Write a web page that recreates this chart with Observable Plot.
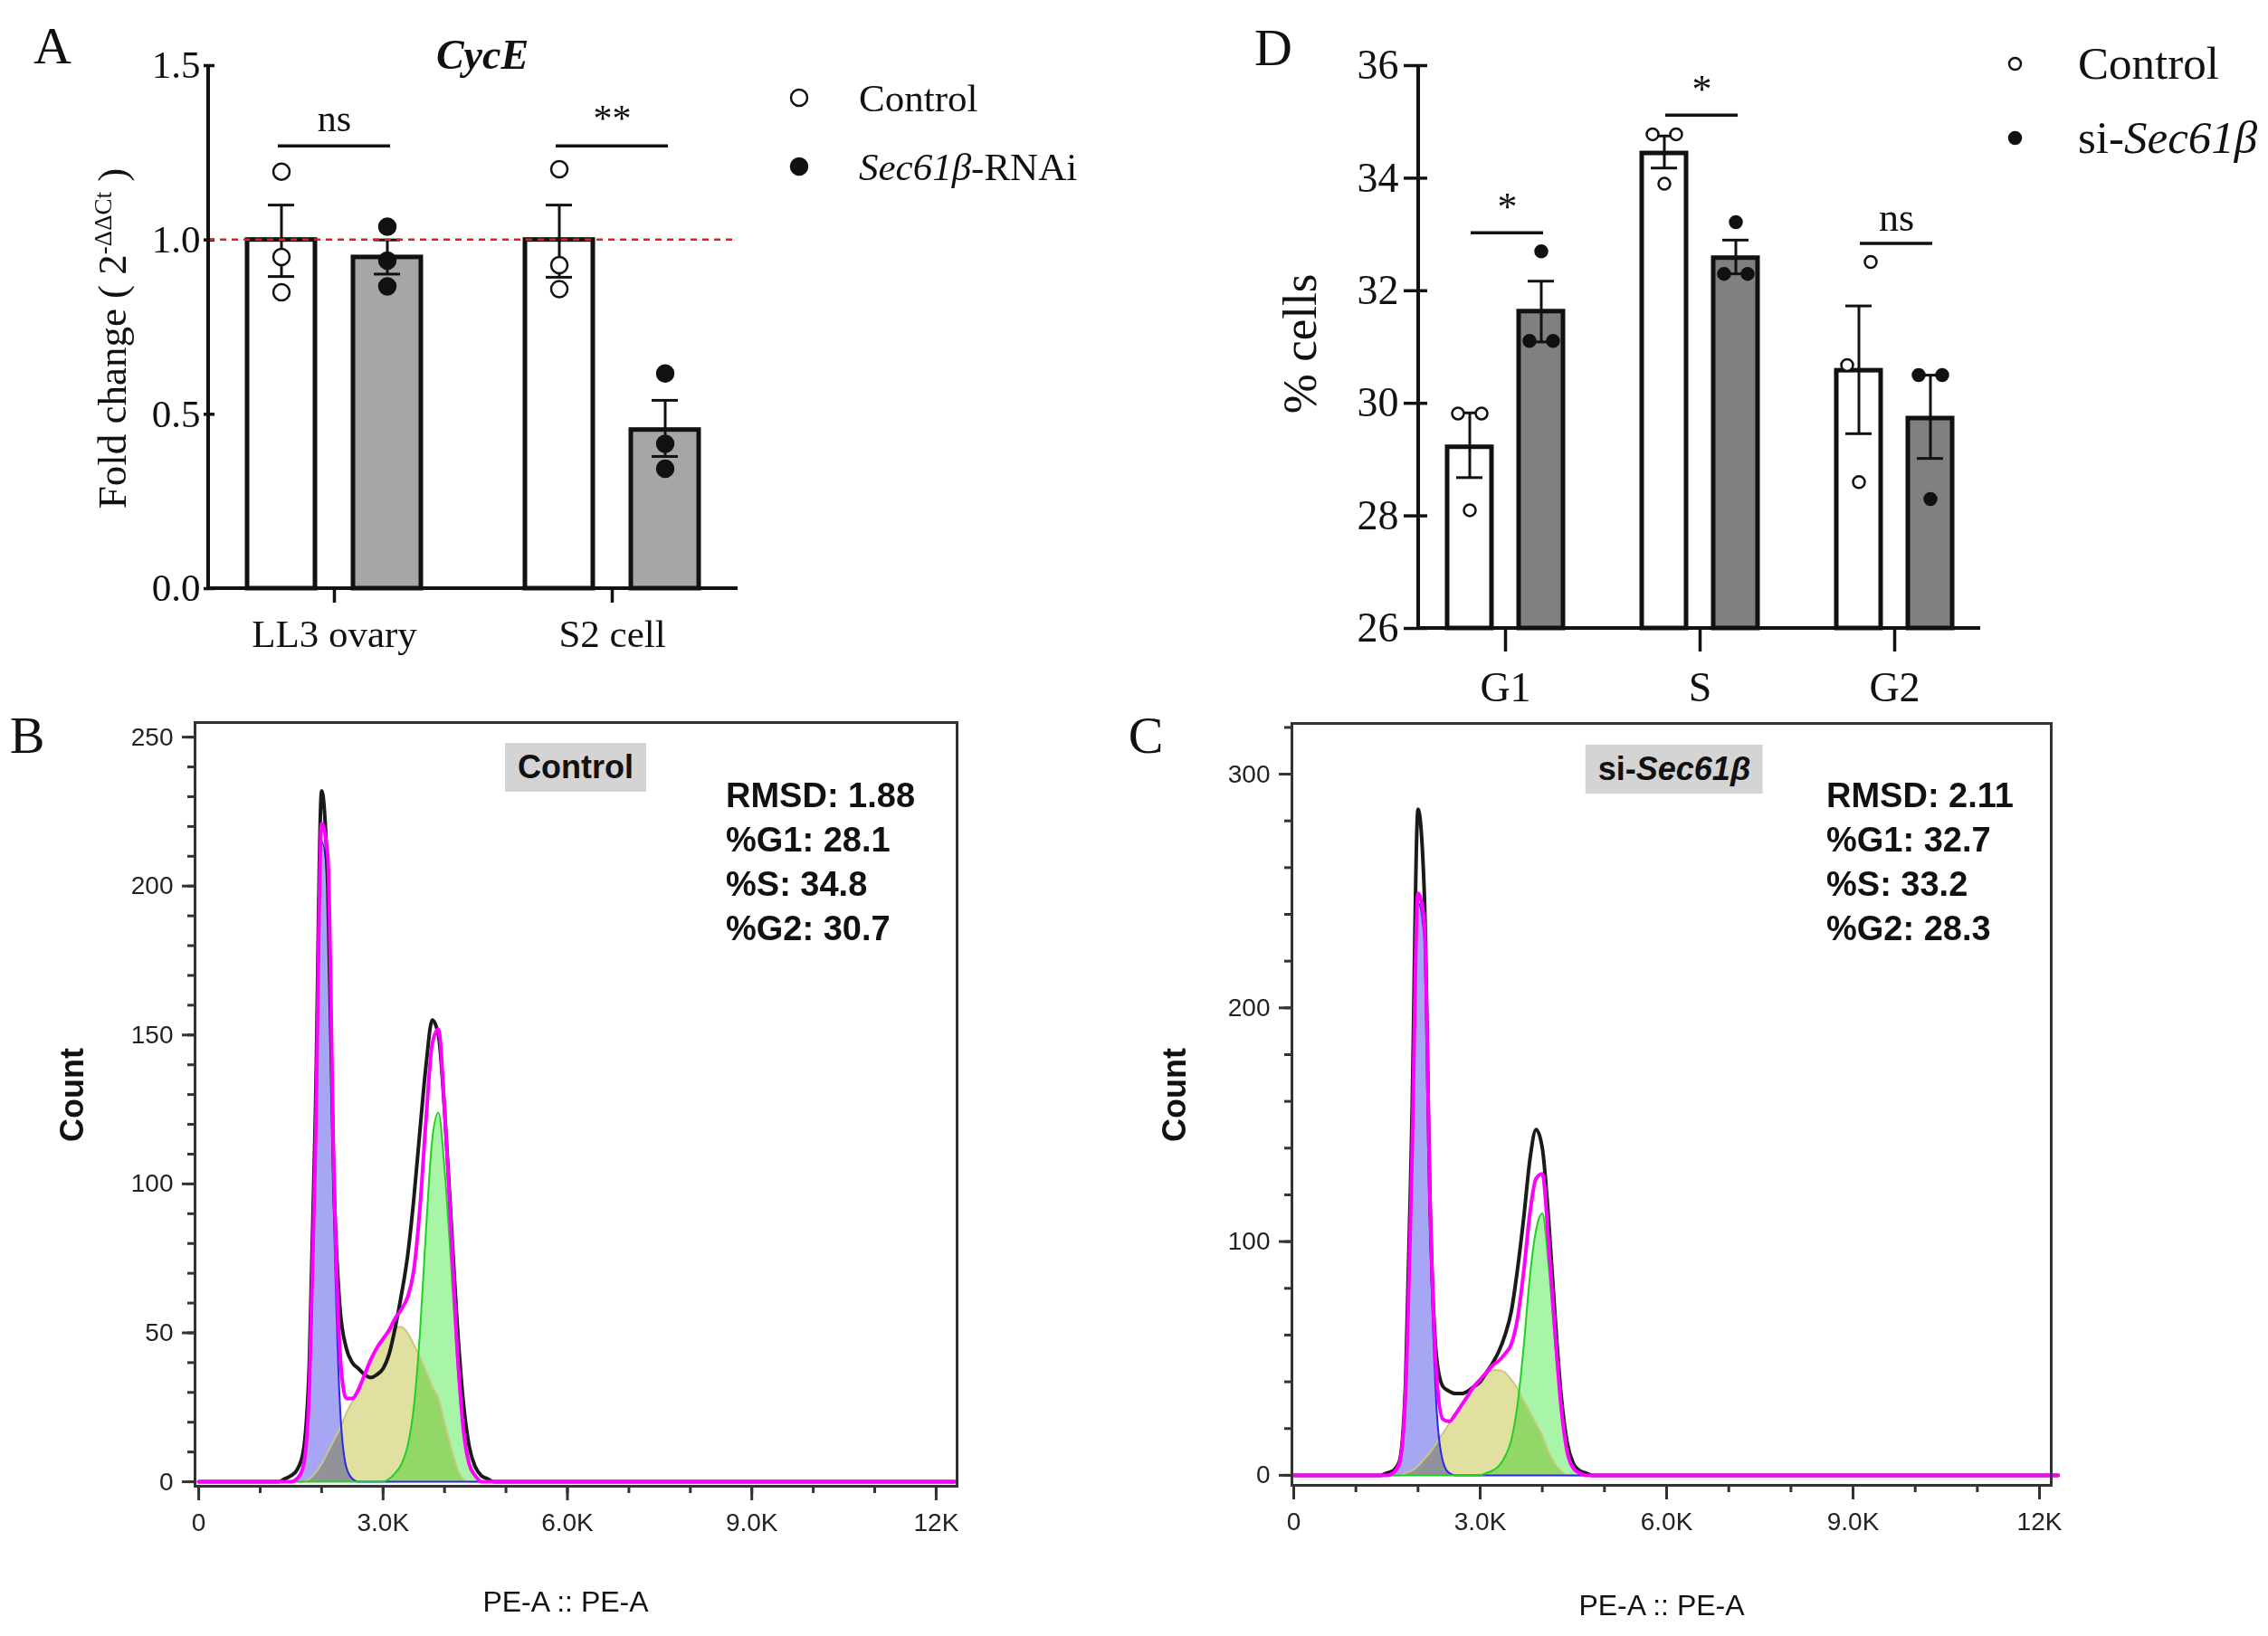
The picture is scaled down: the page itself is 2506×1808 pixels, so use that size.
<!DOCTYPE html>
<html><head><meta charset="utf-8">
<script src="https://cdn.jsdelivr.net/npm/d3@7"></script>
<script src="https://cdn.jsdelivr.net/npm/@observablehq/plot@0.6"></script>
<style>
html,body{margin:0;padding:0;background:#fff;}
#root{position:relative;width:2506px;height:1808px;overflow:hidden;background:#fff;}
.p{position:absolute;}
.t{position:absolute;white-space:nowrap;color:#111;}
.serif{font-family:"Liberation Serif","Times New Roman",serif;}
.sans{font-family:"Liberation Sans",Arial,sans-serif;}
</style></head>
<body><div id="root"></div>
<script>
// ---------- Panel A data ----------
const groupsA = ["LL3 ovary", "S2 cell"];
const condsA = ["Control", "Sec61β-RNAi"];
const meanA = [1.0, 0.95, 1.0, 0.455];
const hiA = [1.10, 1.0, 1.10, 0.54];
const loA = [0.895, 0.902, 0.893, 0.379];
const ptsA = [[1.196, 0.951, 0.85], [1.038, 0.941, 0.867], [1.203, 0.928, 0.859], [0.617, 0.415, 0.344]];
const sigA = [{g: "LL3 ovary", y: 1.27, label: "ns"}, {g: "S2 cell", y: 1.27, label: "**"}];
const ticksA = [0, 0.5, 1.0, 1.5];

// ---------- Panel D data ----------
const phasesD = ["G1", "S", "G2"];
const condsD = ["Control", "si-Sec61β"];
const meanD = [29.22, 31.63, 34.44, 32.58, 30.58, 29.73];
const hiD = [29.83, 32.17, 34.75, 32.9, 31.73, 30.5];
const loD = [28.68, 31.09, 34.18, 32.3, 29.46, 29.02];
const ptsD = [[29.82, 29.82, 28.1], [31.11, 31.11, 32.7], [34.78, 34.78, 33.9], [32.3, 32.3, 33.22], [30.68, 32.51, 28.6], [30.5, 30.5, 28.3]];
const sigD = [{g: "G1", y: 33.03, label: "*"}, {g: "S", y: 35.12, label: "*"}, {g: "G2", y: 32.84, label: "ns"}];
const ticksD = [26, 28, 30, 32, 34, 36];

// ---------- Histogram data (PE-A channel) ----------
const histX = [0, 1300,1400,1500,1600,1700,1800,1900,2000,2100,2200,2300,2400,2500,2600,2700,2800,2900,3000,3100,3200,3300,3400,3500,3600,3700,3800,3900,4000,4100,4200,4300,4400,4500,4600,4700,4800,4900,5000,5100,5200, 12300];
// Control
const bG1 = [0, 0,0,0,1,5,30,110,215,200,90,25,5,1, 0,0,0,0,0,0,0,0,0,0,0,0,0,0,0,0,0,0,0,0,0,0,0,0,0,0,0, 0];
const bS  = [0, 0,0,0,0,0,1,3,6,10,14,18,23,27,31,36,41,45,48,50,52,52,50,46,42,37,32,28,20,12,5,1, 0,0,0,0,0,0,0,0,0, 0];
const bG2 = [0, 0,0,0,0,0,0,0,0,0,0,0,0,0,0,0,0,0,0, 1,3,6,12,25,50,85,115,124,105,75,42,18,6,2,0, 0,0,0,0,0,0, 0];
const bRaw= [0, 0,1,2,4,10,40,125,232,200,100,58,45,40,38,36,35,36,38,43,52,63,76,95,118,140,155,150,125,90,55,28,12,5,2,1, 0,0,0,0,0, 0];
// si-Sec61β
const cG1 = [0, 0,0,0,1,5,35,130,245,230,100,28,6,1, 0,0,0,0,0,0,0,0,0,0,0,0,0,0,0,0,0,0,0,0,0,0,0,0,0,0,0, 0];
const cS  = [0, 0,0,0,0,0, 1,2,4,7,10,14,18,22,26,30,34,38,41,43,45,45,44,41,37,32,27,22,17,10,5,2, 0,0,0,0,0,0,0,0,0, 0];
const cG2 = [0, 0,0,0,0,0,0,0,0,0,0,0,0,0,0,0,0,0,0, 1,2,4,8,15,30,55,85,105,112,90,58,28,10,3,1, 0,0,0,0,0,0, 0];
const cRaw= [0, 0,0,1,2,6,40,150,285,250,110,50,38,36,35,35,36,38,40,44,48,53,60,70,88,110,135,148,140,110,70,35,14,5,2,1, 0,0,0,0,0, 0];
const statsB = ["RMSD: 1.88", "%G1: 28.1", "%S: 34.8", "%G2: 30.7"];
const statsC = ["RMSD: 2.11", "%G1: 32.7", "%S: 33.2", "%G2: 28.3"];

const root = document.getElementById("root");
const SERIF = '"Liberation Serif","Times New Roman",serif';
const SANS = '"Liberation Sans",Arial,sans-serif';

function place(el, left, top) { el.classList.add("p"); el.style.left = left + "px"; el.style.top = top + "px"; root.appendChild(el); }
function text(html, x, y, cls, size, extra) {
  const d = document.createElement("div");
  d.className = "t " + cls; d.innerHTML = html;
  d.style.left = x + "px"; d.style.top = y + "px"; d.style.fontSize = size + "px";
  d.style.transform = "translate(-50%,-50%)" + (extra && extra.rot ? " rotate(" + extra.rot + "deg)" : "");
  if (extra && extra.css) Object.assign(d.style, extra.css);
  root.appendChild(d); return d;
}
function addLine(svg, x1, y1, x2, y2, w, extra) {
  const l = document.createElementNS("http://www.w3.org/2000/svg", "line");
  l.setAttribute("x1", x1); l.setAttribute("y1", y1); l.setAttribute("x2", x2); l.setAttribute("y2", y2);
  l.setAttribute("stroke", (extra && extra.stroke) || "#111"); l.setAttribute("stroke-width", w);
  if (extra && extra.dash) l.setAttribute("stroke-dasharray", extra.dash);
  svg.appendChild(l);
}

// ---------- Bar panel builder ----------
function barPanel(cfg) {
  const rows = [], pts = [];
  cfg.groups.forEach((g, gi) => cfg.conds.forEach((c, ci) => {
    const i = gi * 2 + ci;
    rows.push({g, c, mean: cfg.mean[i], hi: cfg.hi[i], lo: cfg.lo[i]});
    cfg.pts[i].forEach((v, k) => pts.push({g, c, v, k}));
  }));
  const W = cfg.width, H = cfg.height;
  const jit = cfg.jitter;
  const marks = [
    Plot.barY(rows, {fx: "g", x: "c", y1: cfg.ydom[0], y2: "mean", fill: "c", stroke: "#111", strokeWidth: cfg.barStroke}),
    Plot.ruleX(rows, {fx: "g", x: "c", y1: "lo", y2: "hi", stroke: "#111", strokeWidth: 3}),
    Plot.tickY(rows, {fx: "g", x: "c", y: "hi", stroke: "#111", strokeWidth: 3, insetLeft: cfg.capInset, insetRight: cfg.capInset}),
    Plot.tickY(rows, {fx: "g", x: "c", y: "lo", stroke: "#111", strokeWidth: 3, insetLeft: cfg.capInset, insetRight: cfg.capInset}),
    ...[0, 1, 2].map(k => Plot.dot(pts.filter(p => p.k === k), {fx: "g", x: "c", y: "v", dx: jit[k], r: cfg.r,
      fill: p => p.c === "Control" ? "white" : "#111", stroke: "#111", strokeWidth: 2.5})),
    Plot.ruleY(cfg.sig, {fx: "g", y: "y", stroke: "#111", strokeWidth: 3.5, insetLeft: cfg.sigInset[0], insetRight: cfg.sigInset[1]}),
    Plot.text(cfg.sig, {fx: "g", y: "y", text: "label", dy: cfg.sigDy, fontSize: cfg.sigSize, fill: "#111", dx: cfg.sigDx})
  ];
  const p = Plot.plot({
    width: W, height: H,
    marginLeft: cfg.m[0], marginRight: cfg.m[1], marginTop: cfg.m[2], marginBottom: cfg.m[3],
    style: {fontFamily: SERIF, fontSize: cfg.tickFont + "px", color: "#111", background: "transparent"},
    fx: {domain: cfg.groups, paddingInner: cfg.fxPad[0], paddingOuter: cfg.fxPad[1], label: null, axis: "bottom",
         tickSize: cfg.fxTick, tickPadding: cfg.fxTickPad},
    x: {domain: cfg.conds, paddingInner: cfg.xPad[0], paddingOuter: cfg.xPad[1], axis: null},
    y: {domain: cfg.ydom, ticks: cfg.yticks, tickFormat: cfg.yfmt, tickSize: cfg.yTick, tickPadding: cfg.yTickPad, label: null},
    color: {domain: cfg.conds, range: cfg.fills},
    marks
  });
  const L = cfg.m[0], B = H - cfg.m[3], T = cfg.m[2];
  p.querySelectorAll("g[aria-label='y-axis tick'], g[aria-label='fx-axis tick']").forEach(e => e.setAttribute("stroke-width", 3.5));
  if (cfg.refLine !== undefined) {
    const yy = p.scale("y").apply(cfg.refLine);
    addLine(p, L, yy, cfg.axisRight, yy, 2.5, {stroke: "#e02020", dash: "7,6"});
  }
  addLine(p, L, T - 1, L, B + 1.75, 4);
  addLine(p, L - 2, B, cfg.axisRight, B, 4);
  return p;
}

// Panel A
const pA = barPanel({
  groups: groupsA, conds: condsA, mean: meanA, hi: hiA, lo: loA, pts: ptsA, sig: sigA,
  width: 1000, height: 780, m: [230, 185, 72, 130], axisRight: 815,
  fxPad: [0.14, 0.02], xPad: [0.357, 0.303], ydom: [0, 1.5], yticks: ticksA, yfmt: d3.format(".1f"),
  fills: ["white", "#a6a6a6"], barStroke: 5, capInset: 23, r: 9, jitter: [0, 0, 0],
  sigInset: [70, 70], sigDy: -30, sigDx: 0, sigSize: 42, tickFont: 43, yTick: 12, yTickPad: 4,
  fxTick: 16, fxTickPad: 18, refLine: 1.0
});
place(pA, 0, 0);

// Panel D
const pD = barPanel({
  groups: phasesD, conds: condsD, mean: meanD, hi: hiD, lo: loD, pts: ptsD, sig: sigD,
  width: 1156, height: 830, m: [217, 318, 72, 136], axisRight: 838,
  fxPad: [0.2, 0.04], xPad: [0.375, 0.266], ydom: [26, 36], yticks: ticksD, yfmt: d3.format("d"),
  fills: ["white", "#808080"], barStroke: 5, capInset: 10, r: 6.5, jitter: [-13, 13, 0],
  sigInset: [48, 44], sigDy: -28, sigDx: 2, sigSize: 44, tickFont: 46, yTick: 26, yTickPad: 6,
  fxTick: 26, fxTickPad: 22
});
place(pD, 1350, 0);

// ---------- Histogram panel builder ----------
const fmtK = d => d === 0 ? "0" : d >= 10000 ? (d / 1000) + "K" : (d / 1000).toFixed(1) + "K";
function histPanel(cfg) {
  const rows = histX.map((x, i) => ({x, g1: cfg.g1[i], s: cfg.s[i], g2: cfg.g2[i], raw: cfg.raw[i], fit: cfg.g1[i] + cfg.s[i] + cfg.g2[i]}));
  const curve = "monotone-x";
  const ax = {fontSize: 28, fill: "#222", stroke: "#333", strokeWidth: 3, label: null};
  const p = Plot.plot({
    width: cfg.width, height: cfg.height,
    marginLeft: cfg.m[0], marginRight: cfg.m[1], marginTop: cfg.m[2], marginBottom: cfg.m[3],
    style: {fontFamily: SANS, fontSize: "28px", color: "#222", background: "transparent"},
    x: {domain: cfg.xdom, label: null},
    y: {domain: cfg.ydom, label: null},
    marks: [
      Plot.areaY(rows, {x: "x", y: "s", fill: "#e0e0a0", curve}),
      Plot.areaY(rows, {x: "x", y: "g1", fill: "#a6a6f5", curve, mixBlendMode: "multiply"}),
      Plot.areaY(rows, {x: "x", y: "g2", fill: "#a8f5a8", curve, mixBlendMode: "multiply"}),
      Plot.lineY(rows, {x: "x", y: "s", stroke: "#c8c880", strokeWidth: 2, curve}),
      Plot.lineY(rows, {x: "x", y: "g1", stroke: "#2828e6", strokeWidth: 2, curve}),
      Plot.lineY(rows, {x: "x", y: "g2", stroke: "#22d022", strokeWidth: 2, curve}),
      Plot.lineY(rows, {x: "x", y: "raw", stroke: "#1a1a1a", strokeWidth: 4, curve}),
      Plot.lineY(rows, {x: "x", y: "fit", stroke: "#ff00ff", strokeWidth: 4, curve}),
      Plot.frame({stroke: "#333", strokeWidth: 3}),
      Plot.axisY({...ax, ticks: cfg.yMinor, tickSize: 8, tickFormat: () => ""}),
      Plot.axisY({...ax, ticks: cfg.yMajor, tickSize: 14, tickPadding: 10, tickFormat: d3.format("d")}),
      Plot.axisX({...ax, ticks: d3.range(0, 12001, 1000), tickSize: 8, tickFormat: () => ""}),
      Plot.axisX({...ax, ticks: [0, 3000, 6000, 9000, 12000], tickSize: 16, tickPadding: 14, tickFormat: fmtK})
    ]
  });
  return p;
}
const pB = histPanel({g1: bG1, s: bS, g2: bG2, raw: bRaw, width: 1150, height: 1028, m: [215, 93, 18, 166],
  xdom: [-60, 12340], ydom: [-1.5, 254.9], yMajor: [0, 50, 100, 150, 200, 250], yMinor: d3.range(0, 251, 10)});
place(pB, 0, 780);
const pC = histPanel({g1: cG1, s: cS, g2: cG2, raw: cRaw, width: 1150, height: 1028, m: [177, 134, 19, 167],
  xdom: [-29, 12189], ydom: [-4.3, 321.7], yMajor: [0, 100, 200, 300], yMinor: d3.range(0, 321, 20)});
place(pC, 1250, 780);

// ---------- Text overlays ----------
text("A", 58, 50, "serif", 58);
text("D", 1407, 52, "serif", 58);
text("B", 30, 812, "serif", 58);
text("C", 1266, 812, "serif", 58);
text("<b><i>CycE</i></b>", 533, 60, "serif", 46);
text("Fold change ( 2<sup style='font-size:0.6em'>-ΔΔCt</sup> )", 124, 374, "serif", 45, {rot: -90});
text("% cells", 1436, 380, "serif", 53, {rot: -90});

function legendRow(x, y, r, filled, html, tx, size) {
  const s = document.createElementNS("http://www.w3.org/2000/svg", "svg");
  s.setAttribute("width", 2 * r + 6); s.setAttribute("height", 2 * r + 6);
  s.innerHTML = `<circle cx="${r + 3}" cy="${r + 3}" r="${r}" fill="${filled ? '#111' : '#fff'}" stroke="#111" stroke-width="2.5"/>`;
  place(s, x - r - 3, y - r - 3);
  const d = text(html, tx, y, "serif", size); d.style.transform = "translate(0,-50%)";
}
legendRow(883, 108, 9, false, "Control", 949, 43);
legendRow(883, 184, 9, true, "<i>Sec61β</i>-RNAi", 949, 43);
legendRow(2226, 70, 6.5, false, "Control", 2296, 51);
legendRow(2226, 152, 6.5, true, "si-<i>Sec61β</i>", 2296, 51);

// histogram labels
text("<b>Count</b>", 80, 1210, "sans", 36, {rot: -90});
text("<b>Count</b>", 1298, 1210, "sans", 36, {rot: -90});
text("PE-A :: PE-A", 625, 1770, "sans", 32);
text("PE-A :: PE-A", 1836, 1774, "sans", 32);
text("<b>Control</b>", 636, 848, "sans", 36, {css: {background: "#d4d4d4", padding: "6px 14px"}});
text("<b>si-<i>Sec61β</i></b>", 1850, 850, "sans", 36, {css: {background: "#d4d4d4", padding: "6px 14px"}});
function stats(lines, x, y0) {
  const d = text(lines.map(s => "<b>" + s + "</b>").join("<br>"), x, y0, "sans", 38, {css: {lineHeight: "49px"}});
  d.style.transform = "none";
}
stats(statsB, 802, 855);
stats(statsC, 2018, 855);
</script></body></html>
